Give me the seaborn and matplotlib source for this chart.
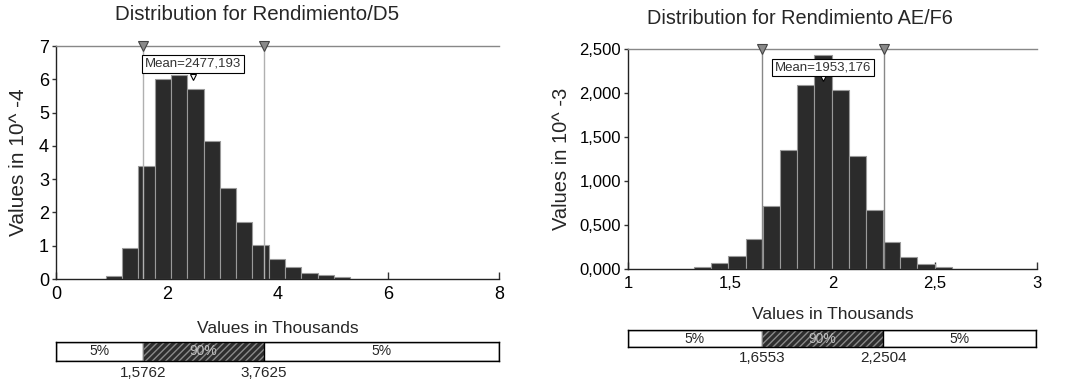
import numpy as np
import pandas as pd
import matplotlib.pyplot as plt
import seaborn as sns

# left chart: Rendimiento/D5 (values in thousands, density in 10^-4)
d5_edges = [0.902, 1.195, 1.489, 1.783, 2.077, 2.371, 2.665, 2.959, 3.253,
            3.547, 3.841, 4.135, 4.429, 4.723, 5.017, 5.311]
d5_heights = [0.08, 0.92, 3.41, 6.02, 6.14, 5.72, 4.15, 2.73, 1.71,
              1.03, 0.61, 0.36, 0.19, 0.13, 0.07]
d5_p5, d5_p95, d5_mean = 1.5762, 3.7625, 2.477193

# right chart: Rendimiento AE/F6 (values in thousands, density in 10^-3)
f6_edges = [1.3225, 1.4065, 1.4905, 1.5745, 1.6585, 1.7425, 1.8265, 1.9105,
            1.9945, 2.0785, 2.1625, 2.2465, 2.3305, 2.4145, 2.4985, 2.5825]
f6_heights = [0.027, 0.072, 0.152, 0.345, 0.716, 1.352, 2.095, 2.436, 2.038,
              1.284, 0.670, 0.314, 0.140, 0.057, 0.027]
f6_p5, f6_p95, f6_mean = 1.6553, 2.2504, 1.953176

d5_xticks = [0, 2, 4, 6, 8]
d5_yticks = [0, 1, 2, 3, 4, 5, 6, 7]
f6_xticks = [1, 1.5, 2, 2.5, 3]
f6_xlabels = ["1", "1,5", "2", "2,5", "3"]
f6_yticks = [0, 0.5, 1.0, 1.5, 2.0, 2.5]
f6_ylabels = ["0,000", "0,500", "1,000", "1,500", "2,000", "2,500"]

sns.set_theme(style="white")
plt.rcParams['font.family'] = ['Liberation Sans', 'DejaVu Sans']

fig = plt.figure(figsize=(10.69, 3.86), dpi=100)


def draw_panel(ax, edges, heights, p5, p95, mean, mean_txt, mean_y, box_y,
               line_col, tick_size):
    centers = [(a + b) / 2 for a, b in zip(edges[:-1], edges[1:])]
    df = pd.DataFrame({"x": centers, "w": heights})
    sns.histplot(data=df, x="x", weights="w", bins=list(edges), ax=ax,
                 color="#2b2b2b", alpha=1, edgecolor="#9a9a9a", linewidth=0.8)
    for p in (p5, p95):
        ax.axvline(p, color=line_col, lw=1, zorder=3)
    ax.plot([mean], [mean_y], marker="v", ms=5, color="white", mec="black",
            mew=0.8, zorder=6)
    ax.text(mean, box_y, mean_txt, ha="center", va="center", fontsize=9.5,
            color="#333333", zorder=7,
            bbox=dict(boxstyle="square,pad=0.2", fc="white", ec="black",
                      lw=0.8))
    ax.set_xlabel("")
    ax.tick_params(axis="x", direction="in", length=5, width=1,
                   colors="#333333", labelcolor="black", labelsize=tick_size,
                   pad=5, bottom=True)
    ax.tick_params(axis="y", direction="out", length=3, width=1,
                   colors="#333333", labelcolor="black", labelsize=tick_size,
                   pad=2, left=True)
    ax.spines["right"].set_visible(False)
    ax.spines["top"].set_color("#888888")
    ax.spines["left"].set_color("#222222")
    ax.spines["bottom"].set_color("#222222")
    for s in ax.spines.values():
        s.set_linewidth(1)


def top_markers(ax, p5, p95):
    ymax = ax.get_ylim()[1]
    ax.plot([p5, p95], [ymax, ymax], ls="none", marker="v", ms=7,
            color="#8a8a8a", mec="#444444", mew=0.8, clip_on=False, zorder=5)


def draw_strip(ax, xmin, xmax, p5, p95, lbl_a, lbl_b):
    ax.barh([0], [p5 - xmin], left=[xmin], height=1, color="white",
            edgecolor="black", lw=1)
    ax.barh([0], [p95 - p5], left=[p5], height=1, color="#2e2e2e",
            edgecolor="#8a8a8a", lw=0.6, hatch="/////")
    ax.barh([0], [xmax - p95], left=[p95], height=1, color="white",
            edgecolor="black", lw=1)
    ax.set_xlim(xmin, xmax)
    ax.set_ylim(-0.5, 0.5)
    ax.text((xmin + p5) / 2, 0, "5%", ha="center", va="center", fontsize=10)
    ax.text((p5 + p95) / 2, 0, "90%", ha="center", va="center", fontsize=10,
            color="#c0c0c0")
    ax.text((p95 + xmax) / 2, 0, "5%", ha="center", va="center", fontsize=10)
    ax.text(p5, -0.75, lbl_a, ha="center", va="top", fontsize=11)
    ax.text(p95, -0.75, lbl_b, ha="center", va="top", fontsize=11)
    ax.set_xticks([])
    ax.set_yticks([])
    for s in ax.spines.values():
        s.set_color("black")
        s.set_linewidth(1)


# left panel
ax1 = fig.add_axes([0.0524, 0.2772, 0.4144, 0.6036])
draw_panel(ax1, d5_edges, d5_heights, d5_p5, d5_p95, d5_mean,
           "Mean=2477,193", 6.08, 6.46, "#b0b0b0", 13)
ax1.set_xlim(0, 8)
ax1.set_ylim(0, 7)
top_markers(ax1, d5_p5, d5_p95)
ax1.set_xticks(d5_xticks)
ax1.set_yticks(d5_yticks)
ax1.set_ylabel("Values in 10^ -4", fontsize=15, labelpad=8)
fig.text(257 / 1069, 1 - 15 / 386, "Distribution for Rendimiento/D5",
         ha="center", va="center", fontsize=14.8)

s1 = fig.add_axes([0.0520, 0.0650, 0.4148, 0.0490])
draw_strip(s1, 0, 8, d5_p5, d5_p95, "1,5762", "3,7625")
fig.text(0.2596, 0.150, "Values in Thousands", ha="center", va="center",
         fontsize=12.5)

# right panel
ax2 = fig.add_axes([0.5875, 0.3023, 0.3828, 0.5700])
draw_panel(ax2, f6_edges, f6_heights, f6_p5, f6_p95, f6_mean,
           "Mean=1953,176", 2.17, 2.295, "#888888", 12)
ax2.set_xlim(1, 3)
ax2.set_ylim(0, 2.5)
top_markers(ax2, f6_p5, f6_p95)
ax2.set_xticks(f6_xticks)
ax2.set_xticklabels(f6_xlabels)
ax2.set_yticks(f6_yticks)
ax2.set_yticklabels(f6_ylabels)
ax2.set_ylabel("Values in 10^ -3", fontsize=14.5, labelpad=6)
fig.text(800 / 1069, 1 - 19 / 386, "Distribution for Rendimiento AE/F6",
         ha="center", va="center", fontsize=14.3)

s2 = fig.add_axes([0.5875, 0.1010, 0.3820, 0.0440])
draw_strip(s2, 1, 3, f6_p5, f6_p95, "1,6553", "2,2504")
fig.text(0.7789, 0.184, "Values in Thousands", ha="center", va="center",
         fontsize=12.5)

plt.savefig("out.png", dpi=100)
